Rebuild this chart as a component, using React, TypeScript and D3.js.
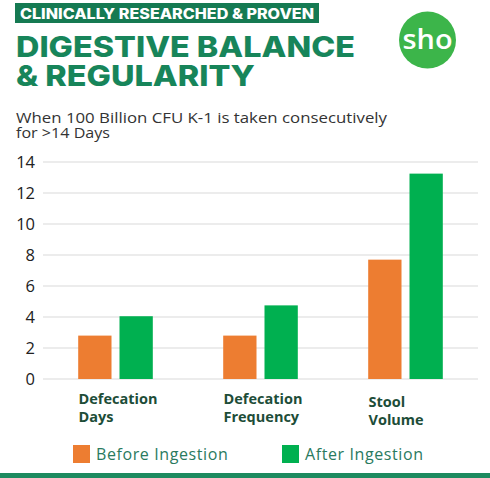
import React from "react";
import * as d3 from "d3";

const categories = [["Defecation", "Days"], ["Defecation", "Frequency"], ["Stool", "Volume"]];
const series = ["Before Ingestion", "After Ingestion"];
const beforeValues = [2.8, 2.8, 7.7];
const afterValues = [4.05, 4.75, 13.25];
const yTicks = [0, 2, 4, 6, 8, 10, 12, 14];
const colors = ["#ED7D31", "#00B050"];

export default function App() {
  const W = 490, H = 478;
  const x = d3.scaleBand<number>().domain([0, 1, 2]).range([43, 478]).padding(0);
  const y = d3.scaleLinear().domain([0, 14]).range([379, 162]);
  const bw = 33.3, gap = 8;
  const data = [beforeValues, afterValues];
  return (
    <svg width={W} height={H} style={{ position: "absolute", left: 0, top: 0, background: "#fff" }}>
      <rect x={0} y={0} width={W} height={H} fill="#fff" />
      {/* header banner */}
      <rect x={15} y={3} width={304} height={20} fill="#157a52" />
      <text x={20} y={18.5} fill="#fff" fontFamily="Inter, 'Open Sans', sans-serif" fontWeight={800} fontSize={14} textLength={294} lengthAdjust="spacingAndGlyphs">CLINICALLY RESEARCHED &amp; PROVEN</text>
      <text x={16} y={57} fill="#17855a" fontFamily="Inter, 'Open Sans', sans-serif" fontWeight={800} fontSize={28.5} textLength={339} lengthAdjust="spacingAndGlyphs">DIGESTIVE BALANCE</text>
      <text x={16} y={86} fill="#17855a" fontFamily="Inter, 'Open Sans', sans-serif" fontWeight={800} fontSize={28.5} textLength={239} lengthAdjust="spacingAndGlyphs">&amp; REGULARITY</text>
      {/* logo */}
      <circle cx={427.5} cy={40} r={28.5} fill="#3cb54a" />
      <text x={427.5} y={49} fill="#fff" textAnchor="middle" fontFamily="'Open Sans', sans-serif" fontWeight={600} fontSize={27} textLength={50} lengthAdjust="spacingAndGlyphs">sho</text>
      {/* subtitle */}
      <text x={16} y={123} fill="#333" fontFamily="'Open Sans', sans-serif" fontSize={15} textLength={371} lengthAdjust="spacingAndGlyphs">When 100 Billion CFU K-1 is taken consecutively</text>
      <text x={16} y={138} fill="#333" fontFamily="'Open Sans', sans-serif" fontSize={15} textLength={94} lengthAdjust="spacingAndGlyphs">for &gt;14 Days</text>
      {/* grid & y ticks */}
      {yTicks.map(t => (
        <g key={t}>
          <line x1={43} x2={478} y1={y(t)} y2={y(t)} stroke="#d9d9d9" strokeWidth={1} />
          <text x={35} y={y(t) + 6} textAnchor="end" fill="#222" fontFamily="'Open Sans', sans-serif" fontSize={16.5}>{t}</text>
        </g>
      ))}
      {/* bars */}
      {categories.map((c, i) => {
        const cx = (x(i) as number) + x.bandwidth() / 2;
        return data.map((vals, s) => {
          const bx = s === 0 ? cx - gap / 2 - bw : cx + gap / 2;
          return <rect key={i + "-" + s} x={bx} y={y(vals[i])} width={bw} height={y(0) - y(vals[i])} fill={colors[s]} />;
        });
      })}
      {/* category labels */}
      {categories.map((c, i) => {
        const cx = (x(i) as number) + x.bandwidth() / 2;
        const lx = cx - 37;
        const dy = i === 2 ? 3 : 0;
        return (
          <text key={i} x={lx} fill="#1d4d38" fontFamily="'Open Sans', sans-serif" fontWeight={700} fontSize={14.5}>
            <tspan x={lx} y={404 + dy}>{c[0]}</tspan>
            <tspan x={lx} y={422 + dy}>{c[1]}</tspan>
          </text>
        );
      })}
      {/* legend */}
      {series.map((s, i) => {
        const lx = i === 0 ? 73 : 282;
        return (
          <g key={s}>
            <rect x={lx} y={445} width={17} height={18} fill={colors[i]} />
            <text x={lx + 23} y={460} fill="#2a7a5e" fontFamily="'Open Sans', sans-serif" fontSize={16} letterSpacing={0.6}>{s}</text>
          </g>
        );
      })}
      <rect x={0} y={473} width={W} height={5} fill="#1d8a5f" />
    </svg>
  );
}
